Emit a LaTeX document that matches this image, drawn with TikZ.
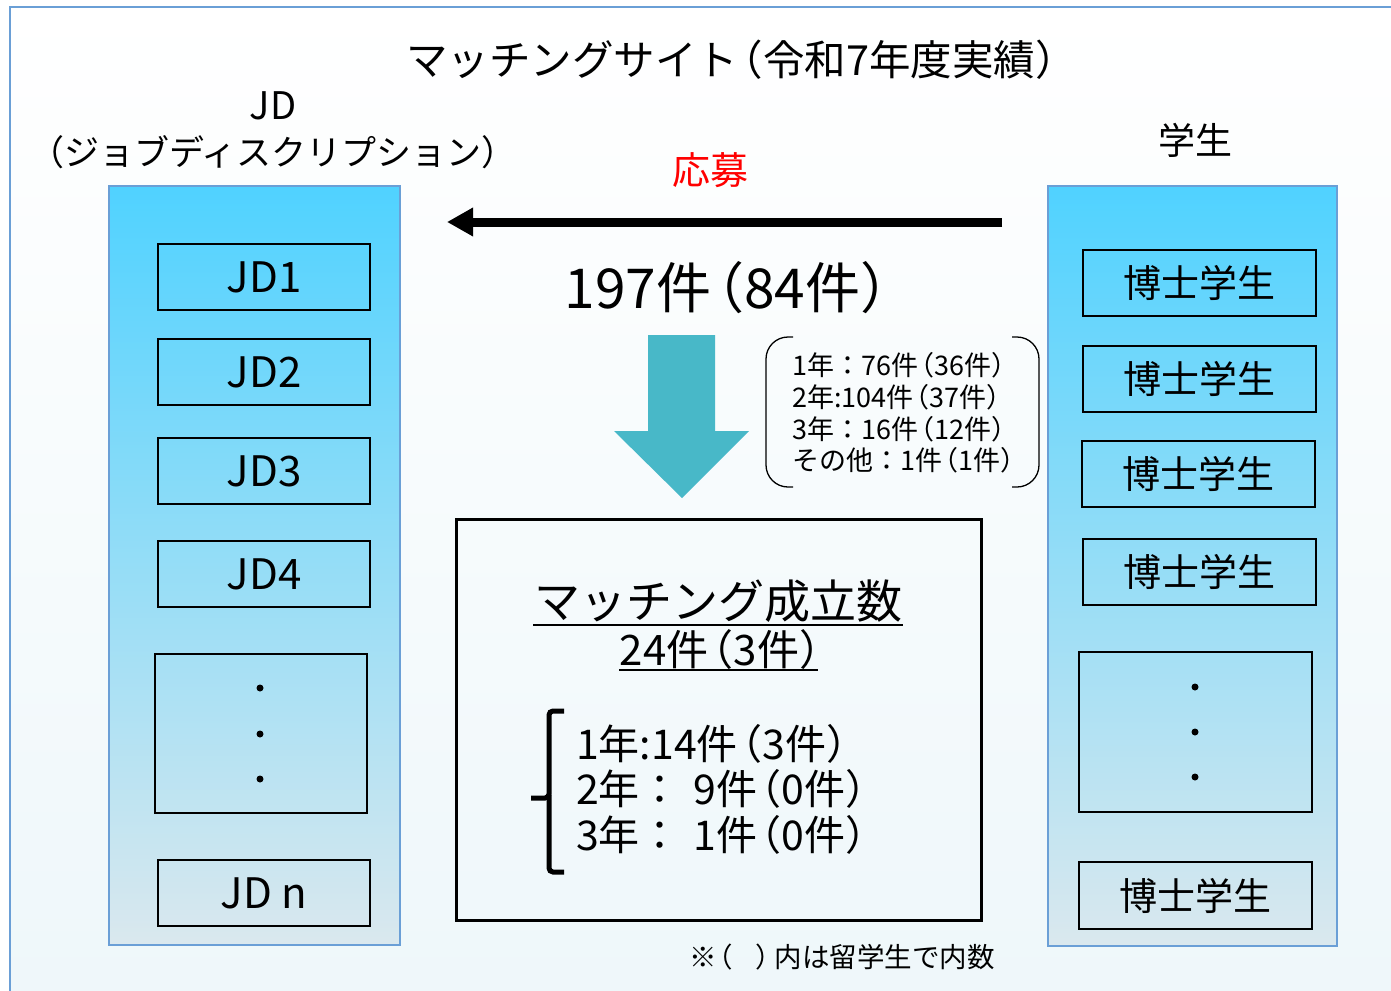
\documentclass[tikz,border=0pt]{standalone}
\usepackage{fontspec}
\setmainfont{Noto Sans CJK JP}
\usetikzlibrary{arrows.meta,shadings}
\definecolor{frameblue}{HTML}{6A9FD6}
\definecolor{colTop}{HTML}{50D2FF}
\definecolor{colBot}{HTML}{DAE8EE}
\definecolor{bgBot}{HTML}{EEF7FA}
\definecolor{arrowteal}{HTML}{48B8C8}
\definecolor{redlabel}{HTML}{FF0000}
\newcommand{\fs}[1]{\fontsize{#1}{#1}\selectfont}
\newcommand{\lp}{\kern-0.4em（}
\newcommand{\rp}{）\kern-0.4em}
\begin{document}
\begin{tikzpicture}[x=1pt,y=-1pt,
  column/.style={draw=frameblue, line width=2, top color=colTop, bottom color=colBot, minimum width=291, minimum height=759, inner sep=0},
  itembox/.style={draw=black, line width=1.8, minimum width=212, minimum height=66, inner sep=0, font=\fs{42}},
  stubox/.style={draw=black, line width=1.8, minimum width=233, minimum height=66, inner sep=0, font=\fs{38}},
  dotmark/.style={fill=black},
  label/.style={inner sep=0, anchor=center}
]
\useasboundingbox (0,0) rectangle (1391,990);
\clip (0,0) rectangle (1391,990);
% background frame
\draw[frameblue, line width=2.5, top color=white, bottom color=bgBot] (10,7) rectangle (1420,1020);

% title
\node[label, font=\fs{41.5}] (title) at (733,60) {マッチングサイト\lp 令和7年度実績\rp};
\node[label, font=\fs{38}] (jdlab) at (273,106) {JD};
\node[label, font=\fs{35}] (jdsub) at (273,152) {\lp ジョブディスクリプション\rp};
\node[label, font=\fs{37}] (stulab) at (1195,140) {学生};
\node[label, font=\fs{38}, text=redlabel] (oubo) at (710,170) {応募};

% columns
\node[column] (lcol) at (254.5,565.5) {};
\node[column, minimum width=289, minimum height=760] (rcol) at (1192.5,566) {};

% JD boxes
\node[itembox] (jd1) at (264,277) {JD1};
\node[itembox] (jd2) at (264,372) {JD2};
\node[itembox] (jd3) at (264,471) {JD3};
\node[itembox] (jd4) at (264,574) {JD4};
\node[itembox, minimum height=159] (jddots) at (261,733.5) {};
\node[itembox] (jdn) at (264,893) {JD n};
\foreach \yy in {688,734,779} \fill[dotmark] (260,\yy) circle (3.5);

% student boxes
\node[stubox] (s1) at (1199.5,283) {博士学生};
\node[stubox] (s2) at (1199.5,379) {博士学生};
\node[stubox] (s3) at (1198.5,474) {博士学生};
\node[stubox] (s4) at (1199.5,572) {博士学生};
\node[stubox, minimum height=160] (sdots) at (1195.5,732) {};
\node[stubox, minimum height=67] (sn) at (1195.5,895.5) {博士学生};
\foreach \yy in {687,732,777} \fill[dotmark] (1195,\yy) circle (3.5);

% application arrow
\coordinate (appS) at (1002,222);
\coordinate (appE) at (447,222);
\draw[line width=9, -{Triangle[length=26pt,width=27pt]}] (appS) -- (appE);
\node[label, font=\fs{55}] (count) at (729,288) {197件\lp 84件\rp};

% down arrow
\fill[arrowteal] (648,335) -- (715,335) -- (715,431) -- (749,431) -- (682,498) -- (614,431) -- (648,431) -- cycle;

% breakdown bracket
\draw[line width=1.3, rounded corners=22] (793,337) -- (766,337) -- (766,487) -- (793,487);
\draw[line width=1.3, rounded corners=22] (1012,337) -- (1039,337) -- (1039,487) -- (1012,487);
\node[anchor=west, inner sep=0, align=left, font=\fontsize{27}{31.7}\selectfont] (brk) at (792,413)
  {1年：76件\lp 36件）\\2年:104件\lp 37件）\\3年：16件\lp 12件）\\その他：1件\lp 1件）};

% main result box
\node[draw=black, line width=3, minimum width=525, minimum height=401, inner sep=0] (main) at (718.5,719.5) {};
\node[label, font=\fs{46}] (mtitle) at (718,601) {マッチング成立数};
\draw[line width=2] (533,625) -- (903,625);
\node[label, font=\fs{42}] (mcount) at (722,650) {24件\lp 3件\rp};
\draw[line width=2] (619,670) -- (818,670);
\draw[line width=5, rounded corners=4] (564,711) -- (549,711) -- (549,798) -- (531,798);
\draw[line width=5, rounded corners=4] (549,795) -- (549,872) -- (564,872);
\node[anchor=west, inner sep=0, align=left, font=\fontsize{41}{45.5}\selectfont] (mbrk) at (576,789)
  {1年:14件\lp 3件）\\2年：\hspace{0.3em}9件\lp 0件）\\3年：\hspace{0.3em}1件\lp 0件）};

% footnote
\node[label, font=\fs{27.5}] (note) at (842,957) {※\lp\hspace{0.8em}）\kern-0.3em 内は留学生で内数};
\end{tikzpicture}
\end{document}
